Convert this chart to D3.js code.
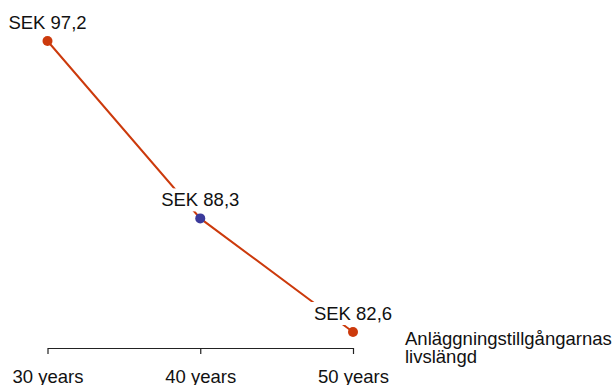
<!DOCTYPE html>
<html>
<head>
<meta charset="utf-8">
<script src="https://cdn.jsdelivr.net/npm/d3@7"></script>
<style>
  html, body { margin: 0; padding: 0; background: #fff; }
  svg { display: block; font-family: "Liberation Sans", Arial, sans-serif; }
</style>
</head>
<body>
<svg id="chart" width="615" height="385"></svg>
<script>
// Asset lifetime scenarios and resulting value (SEK)
const lifetimes = [30, 40, 50];
const tickLabels = ["30 years", "40 years", "50 years"];
const values = [97.2, 88.3, 82.6];
const pointColors = ["#cc3a0c", "#3b3a9b", "#cc3a0c"];
const axisTitle = ["Anläggningstillgångarnas", "livslängd"];

const svg = d3.select("#chart");
const fontSize = 18.5;

const x = d3.scaleLinear().domain([30, 50]).range([47.5, 353]);
const y = d3.scaleLinear().domain([82.6, 97.2]).range([332, 41]);
const axisY = 348;

const data = lifetimes.map((l, i) => ({ l, v: values[i], c: pointColors[i] }));

// Connecting line
svg.append("path")
  .datum(data)
  .attr("fill", "none")
  .attr("stroke", "#cc3a0c")
  .attr("stroke-width", 2)
  .attr("d", d3.line().x(d => x(d.l)).y(d => y(d.v)));

// Value labels with white backing
const fmt = v => "SEK " + d3.format(".1f")(v).replace(".", ",");
const labels = svg.append("g").selectAll("g")
  .data(data).join("g");
const texts = labels.append("text")
  .attr("x", d => x(d.l))
  .attr("y", d => y(d.v) - 12)
  .attr("text-anchor", "middle")
  .attr("font-size", fontSize)
  .attr("fill", "#111")
  .text(d => fmt(d.v));
texts.each(function () {
  const b = this.getBBox();
  d3.select(this.parentNode).insert("rect", "text")
    .attr("x", b.x - 3).attr("y", b.y - 1)
    .attr("width", b.width + 6).attr("height", b.height + 2)
    .attr("fill", "#fff");
});

// Points
svg.append("g").selectAll("circle")
  .data(data).join("circle")
  .attr("cx", d => x(d.l))
  .attr("cy", d => y(d.v))
  .attr("r", 5)
  .attr("fill", d => d.c);

// Bottom axis
const axis = d3.axisBottom(x)
  .tickValues(lifetimes)
  .tickFormat((d, i) => tickLabels[i])
  .tickSize(6)
  .tickSizeOuter(0);
const gAxis = svg.append("g")
  .attr("transform", `translate(0,${axisY})`)
  .call(axis);
gAxis.select(".domain").attr("stroke", "#222").attr("stroke-width", 1.2);
gAxis.selectAll(".tick line").attr("stroke", "#222").attr("stroke-width", 1.2);
gAxis.selectAll(".tick text")
  .attr("font-family", "Liberation Sans, Arial, sans-serif")
  .attr("font-size", fontSize)
  .attr("fill", "#111")
  .attr("dy", null)
  .attr("y", 35);

// Axis title
svg.append("text")
  .attr("x", 405)
  .attr("y", 345)
  .attr("font-size", fontSize)
  .attr("fill", "#111")
  .selectAll("tspan")
  .data(axisTitle).join("tspan")
  .attr("x", 405)
  .attr("dy", (d, i) => i === 0 ? 0 : 18)
  .text(d => d);
</script>
</body>
</html>
